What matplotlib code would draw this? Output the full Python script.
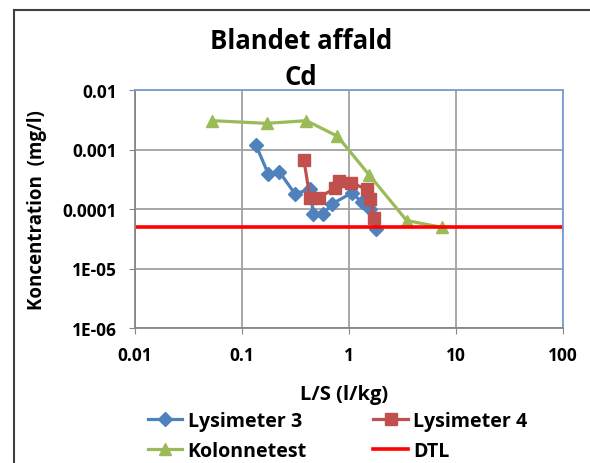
import matplotlib
matplotlib.use("Agg")
import matplotlib.pyplot as plt
from matplotlib.patches import Rectangle
from matplotlib.ticker import FixedLocator, FixedFormatter, NullLocator

plt.rcParams['font.family'] = ['Open Sans', 'DejaVu Sans']
plt.rcParams['font.weight'] = 'bold'

# Data
lys3_x = [0.135, 0.176, 0.223, 0.313, 0.432, 0.464, 0.575, 0.69, 1.06, 1.32, 1.57, 1.79]
lys3_y = [0.00119, 0.000388, 0.000424, 0.000179, 0.000217, 8.2e-5, 8.2e-5, 0.000121, 0.000186, 0.000131, 0.0001, 4.7e-5]

lys4_x = [0.379, 0.432, 0.525, 0.74, 0.81, 1.04, 1.47, 1.57, 1.73]
lys4_y = [0.000667, 0.000153, 0.000156, 0.000225, 0.000296, 0.000273, 0.000217, 0.00015, 7.1e-5]

kol_x = [0.053, 0.17, 0.40, 0.78, 1.55, 3.46, 7.45]
kol_y = [0.00305, 0.00275, 0.00305, 0.00167, 0.00037, 6.4e-5, 4.9e-5]

dtl_value = 5e-5

x_ticks = [0.01, 0.1, 1, 10, 100]
x_labels = ['0.01', '0.1', '1', '10', '100']
y_ticks = [1e-6, 1e-5, 1e-4, 1e-3, 1e-2]
y_labels = ['1E-06', '1E-05', '0.0001', '0.001', '0.01']

W, H = 590, 464
fig = plt.figure(figsize=(W / 100, H / 100), dpi=100)

# outer chart border (extends past right/bottom edge)
fig.patches.append(Rectangle((13.5 / W, -0.05), 1.2, 1 - 11 / H + 0.05,
                             transform=fig.transFigure, fill=False,
                             edgecolor='#3f3f3f', linewidth=1.5))

ax = fig.add_axes([135 / W, 1 - 329 / H, (563 - 135) / W, (329 - 91) / H])
ax.set_xscale('log')
ax.set_yscale('log')
ax.set_xlim(0.01, 100)
ax.set_ylim(1e-6, 1e-2)

ax.xaxis.set_major_locator(FixedLocator(x_ticks))
ax.xaxis.set_major_formatter(FixedFormatter(x_labels))
ax.yaxis.set_major_locator(FixedLocator(y_ticks))
ax.yaxis.set_major_formatter(FixedFormatter(y_labels))
ax.xaxis.set_minor_locator(NullLocator())
ax.yaxis.set_minor_locator(NullLocator())

ax.grid(True, color='#a0a0a0', linewidth=1.3)
ax.set_axisbelow(True)

for s in ['left', 'bottom']:
    ax.spines[s].set_color('#868686')
    ax.spines[s].set_linewidth(1.3)
for s in ['top', 'right']:
    ax.spines[s].set_color('#7a9ccf')
    ax.spines[s].set_linewidth(1.3)

ax.tick_params(axis='both', which='major', length=4, color='#868686',
               labelsize=12.5)
ax.tick_params(axis='x', pad=9)
ax.tick_params(axis='y', pad=9)
for lbl in ax.get_xticklabels() + ax.get_yticklabels():
    lbl.set_fontweight('bold')

l3, = ax.plot(lys3_x, lys3_y, color='#4f81bd', linewidth=2.3, marker='D',
              markersize=7, label='Lysimeter 3')
l4, = ax.plot(lys4_x, lys4_y, color='#c0504d', linewidth=2.3, marker='s',
              markersize=8, label='Lysimeter 4')
kl, = ax.plot(kol_x, kol_y, color='#9bbb59', linewidth=2.3, marker='^',
              markersize=9, label='Kolonnetest')
dl = ax.axhline(dtl_value, color='#ff0000', linewidth=2.6, label='DTL')

fig.text(301 / W, 1 - 49 / H, 'Blandet affald', ha='center', va='baseline',
         fontsize=18.5, fontweight='bold')
fig.text(301 / W, 1 - 85 / H, 'Cd', ha='center', va='baseline',
         fontsize=18.5, fontweight='bold')

fig.text(344 / W, 1 - 395 / H, 'L/S (l/kg)', ha='center', va='center',
         fontsize=14.5, fontweight='bold')
fig.text(37 / W, 1 - 210 / H, 'Koncentration  (mg/l)', rotation=90,
         ha='center', va='center', fontsize=13.5, fontweight='bold')

leg = fig.legend(handles=[l3, kl, l4, dl], ncol=2, loc='upper left',
                 bbox_to_anchor=(148 / W, 1 - 412 / H), frameon=False,
                 fontsize=14.1, handlelength=1.75, handletextpad=0.27,
                 columnspacing=3.4, numpoints=1, labelspacing=0.5,
                 borderaxespad=0, borderpad=0)
for t in leg.get_texts():
    t.set_fontweight('bold')

fig.savefig('out.png', dpi=100)
